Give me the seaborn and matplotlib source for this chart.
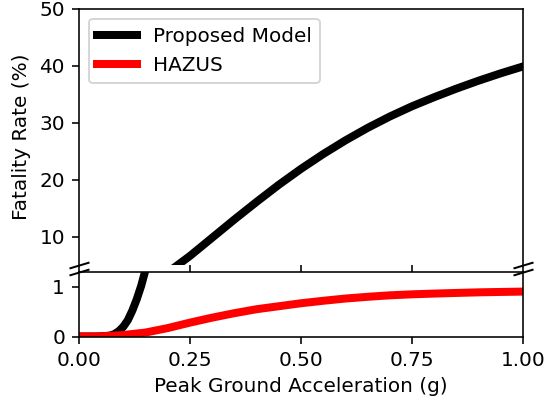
import matplotlib
matplotlib.use("Agg")
import matplotlib.pyplot as plt
import seaborn as sns

# Peak ground acceleration (g) and fatality rate (%) for each model
pga = [0.00, 0.04, 0.06, 0.07, 0.08, 0.09, 0.10, 0.11, 0.12, 0.13, 0.14,
       0.15, 0.16, 0.18, 0.20, 0.25, 0.30, 0.35, 0.40, 0.45, 0.50,
       0.55, 0.60, 0.65, 0.70, 0.75, 0.80, 0.85, 0.90, 0.95, 1.00]
proposed = [0.00, 0.00, 0.01, 0.02, 0.05, 0.11, 0.20, 0.33, 0.52, 0.75, 1.02,
            1.35, 1.75, 2.65, 3.7, 6.6, 9.8, 13.0, 16.1, 19.1, 21.9,
            24.5, 26.9, 29.1, 31.1, 32.9, 34.5, 36.0, 37.4, 38.7, 39.9]

hazus_pga = [0.00, 0.05, 0.10, 0.15, 0.20, 0.25, 0.30, 0.35, 0.40, 0.45, 0.50,
             0.55, 0.60, 0.65, 0.70, 0.75, 0.80, 0.85, 0.90, 0.95, 1.00]
hazus = [0.00, 0.003, 0.03, 0.08, 0.17, 0.28, 0.38, 0.47, 0.55, 0.61, 0.67,
         0.72, 0.765, 0.80, 0.83, 0.85, 0.865, 0.878, 0.89, 0.898, 0.905]

x_ticks = [0.00, 0.25, 0.50, 0.75, 1.00]
upper_ticks = [10, 20, 30, 40, 50]
lower_ticks = [0, 1]

W, H, DPI = 545, 398, 144
fig = plt.figure(figsize=(W / DPI, H / DPI), dpi=DPI)

# Broken y axis: large rates on top, small rates below
ax_top = fig.add_axes([79 / W, 1 - 265 / H, 444 / W, 256 / H])
ax_bot = fig.add_axes([79 / W, 1 - 336.5 / H, 444 / W, 64.5 / H])

line_kw = dict(linewidth=4, solid_capstyle="projecting")
for ax in (ax_top, ax_bot):
    sns.lineplot(x=pga, y=proposed, ax=ax, color="black",
                 label="Proposed Model", legend=False, **line_kw)
    sns.lineplot(x=hazus_pga, y=hazus, ax=ax, color="red",
                 label="HAZUS", legend=False, **line_kw)
    ax.set_xlim(0, 1)
    ax.set_xticks(x_ticks)

ax_top.set_ylim(5, 50)
ax_top.set_yticks(upper_ticks)
ax_bot.set_ylim(0, 1.3)
ax_bot.set_yticks(lower_ticks)

ax_top.spines["bottom"].set_visible(False)
ax_top.tick_params(axis="x", labelbottom=False)
ax_bot.xaxis.tick_bottom()

ax_top.set_ylabel("Fatality Rate (%)")
ax_top.set_xlabel("")
ax_bot.set_xlabel("Peak Ground Acceleration (g)")
ax_bot.set_ylabel("")

leg_bot = ax_bot.get_legend()
if leg_bot is not None:
    leg_bot.remove()
ax_top.legend(loc="upper left")

# Diagonal break marks on both sides of the gap
d = 0.3
brk = dict(marker=[(-1, -d), (1, d)], markersize=10, linestyle="none",
           color="k", mec="k", mew=1, clip_on=False)
ax_top.plot([0, 1], [0, 0], transform=ax_top.transAxes, **brk)
ax_bot.plot([0, 1], [1, 1], transform=ax_bot.transAxes, **brk)

fig.savefig("out.png", dpi=DPI)
